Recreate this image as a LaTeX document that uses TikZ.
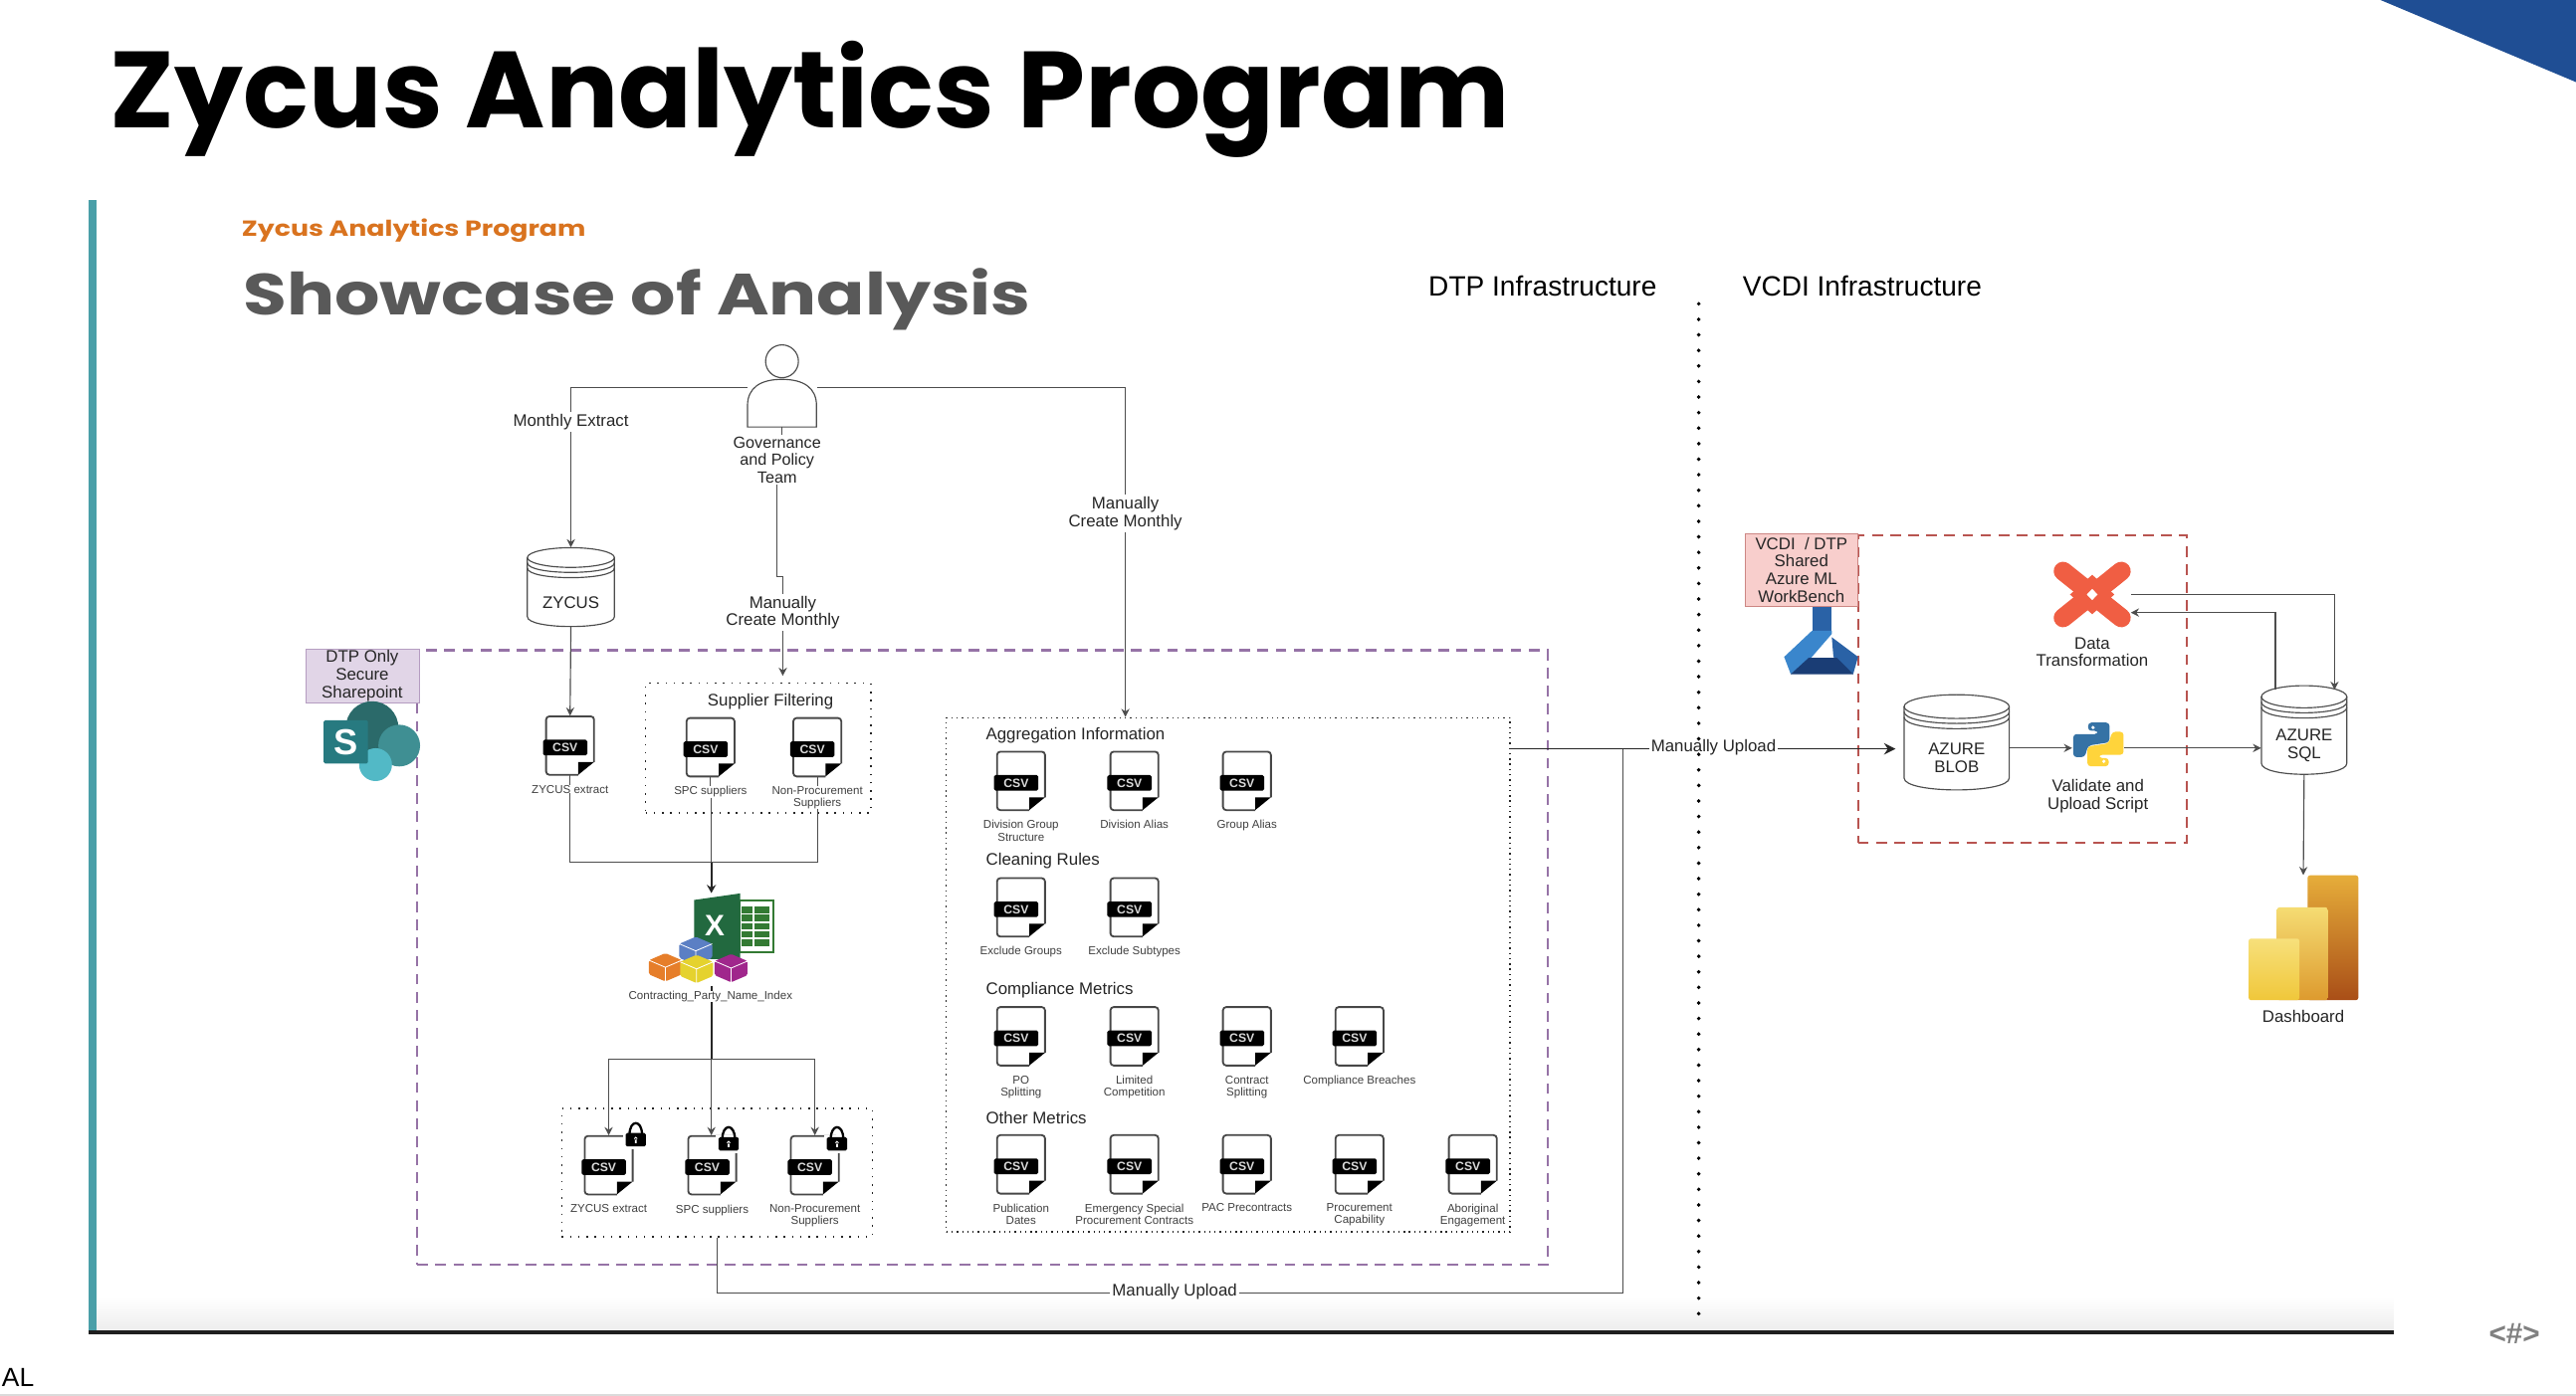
\documentclass[tikz,border=0pt]{standalone}
\usepackage{fontspec}
\setmainfont{Liberation Sans}
\newfontfamily\titlefont{Poppins}
\newfontfamily\widefont[FakeStretch=1.22]{Poppins}
\usetikzlibrary{arrows.meta,calc,positioning}

\definecolor{bannerblue}{HTML}{1F4E94}
\definecolor{barteal}{HTML}{4A9FA8}
\definecolor{headorange}{HTML}{D9731F}
\definecolor{headgrey}{HTML}{595959}
\definecolor{linkgrey}{HTML}{4D4D4D}
\definecolor{zonepurple}{HTML}{9673A6}
\definecolor{zonered}{HTML}{B85450}
\definecolor{tagpurple}{HTML}{E1D5E7}
\definecolor{tagred}{HTML}{F8CECC}
\definecolor{dbtred}{HTML}{F05E43}

\newcommand{\csvfile}[4]{%
    \node [filebody] (#1) at (#2,#3) {};
    \begin{scope}[shift={(#2,#3)}]
        \draw [fileline] (5,17.8) -- (-14.6,17.8) -- (-14.6,-17.8) -- (14.6,-17.8) -- (14.6,10);
        \fill [black] (5,17.8) -- (14.6,10) -- (5,10) -- cycle;
        \node [csvtag] at (-3,1.2) {CSV};
    \end{scope}
    \node [smalltext, anchor=north] (#1lbl) at (#2,#3+22.5) {#4};
}
\newcommand{\datastore}[6]{%
    \pgfmathsetmacro{\halfw}{#4/2}
    \pgfmathsetmacro{\halfh}{#5/2}
    \pgfmathsetmacro{\capy}{#5/8}
    \begin{scope}[shift={(#2,#3)}]
        \draw [storeline, fill=white] (-\halfw,-\halfh+\capy) -- (-\halfw,\halfh-\capy)
            .. controls (-\halfw,\halfh+\capy/3) and (\halfw,\halfh+\capy/3) .. (\halfw,\halfh-\capy)
            -- (\halfw,-\halfh+\capy);
        \draw [storeline] (0,-\halfh+\capy) ellipse [x radius=\halfw, y radius=\capy];
        \foreach \band in {3.2,6.4}
            \draw [storeline] (-\halfw,-\halfh+\capy+\band)
                .. controls (-\halfw,-\halfh+2.3*\capy+\band) and (\halfw,-\halfh+2.3*\capy+\band) .. (\halfw,-\halfh+\capy+\band);
    \end{scope}
    \node [inner sep=0, minimum width=#4, minimum height=#5] (#1) at (#2,#3) {};
    \node [labeltext] (#1txt) at (#2,#3+8.5) {#6};
}
\newcommand{\lockmark}[2]{%
    \fill [white] (#1-8,#2-5) rectangle (#1+8,#2+5.5);
    \draw [line width=1.4] (#1-3.8,#2-3) .. controls (#1-3.8,#2-12.5) and (#1+3.8,#2-12.5) .. (#1+3.8,#2-3);
    \fill [black, rounded corners=1] (#1-6.2,#2-4.1) rectangle (#1+6.2,#2+4.1);
    \fill [white] (#1,#2-0.8) circle (1.1) (#1-0.5,#2-0.8) rectangle (#1+0.5,#2+2);
}
\newcommand{\isobox}[3]{%
    \fill [#3, rounded corners=1] (#1-10,#2-4.3) -- (#1,#2-8.6) -- (#1+10,#2-4.3) -- (#1+10,#2+4.3) -- (#1,#2+8.6) -- (#1-10,#2+4.3) -- cycle;
    \draw [white, line width=0.5] (#1-10,#2-4.3) -- (#1,#2) -- (#1+10,#2-4.3) (#1,#2) -- (#1,#2+8.6);
}

\begin{document}
\begin{tikzpicture}[x=1pt, y=-1pt,
        arrow/.style = {draw=linkgrey, line width=0.7pt, -{Stealth[length=5pt,width=5pt]}},
        link/.style = {draw=linkgrey, line width=0.7pt},
        heavy/.style = {draw=black!85, line width=1pt},
        storeline/.style = {draw=linkgrey, line width=0.7pt},
        fileline/.style = {draw=black!72, line width=1.1pt, rounded corners=2pt},
        filebody/.style = {inner sep=0, minimum width=30, minimum height=36},
        csvtag/.style = {fill=black, text=white!85!black, rounded corners=1pt, inner sep=0, minimum width=27, minimum height=9.5, font=\fontsize{7.4}{8}\selectfont\bfseries},
        labeltext/.style = {align=center, inner sep=1pt, yshift=-1pt, text=black!85, font=\fontsize{10.2}{10.8}\selectfont},
        smalltext/.style = {align=center, inner sep=0, yshift=-1.3pt, text=black!75, font=\fontsize{7}{7.4}\selectfont},
        headtext/.style = {anchor=west, inner sep=0, yshift=-0.8pt, text=black!85, font=\fontsize{10.2}{11}\selectfont},
        dotzone/.style = {draw=black!85, line width=0.9pt, dash pattern=on 0.9pt off 4.1pt, inner sep=0},
        finezone/.style = {draw=black!85, line width=0.8pt, dash pattern=on 0.8pt off 2.4pt, inner sep=0},
        purplezone/.style = {draw=zonepurple, line width=1.4pt, dash pattern=on 6.5pt off 4.5pt, inner sep=0},
        redzone/.style = {draw=zonered, line width=1.4pt, dash pattern=on 6.5pt off 4.5pt, inner sep=0},
        infotag/.style = {labeltext, minimum width=69},
    ]
    \useasboundingbox (0,0) rectangle (1568,850);
    \fill [white] (0,0) rectangle (1568,850);

    \fill [bannerblue] (1449,0) -- (1568,0) -- (1568,50) -- cycle;
    \node [anchor=base west, inner sep=0] (title) at (67,78) {\titlefont\fontsize{66}{66}\selectfont\bfseries Zycus Analytics Program};

    \shade [top color=white, bottom color=black!7] (58,790) rectangle (1457,810);
    \fill [barteal] (54,122) rectangle (58.5,811);
    \fill [black!88] (54,810) rectangle (1457,812.5);
    \node [anchor=west, inner sep=0] (author) at (1,839) {\fontsize{16}{16}\selectfont AL};
    \draw [black!14, line width=0.8pt] (0,849.5) -- (1568,849.5);
    \node [inner sep=0, text=black!50] (pagemark) at (1530.5,812) {\fontsize{18}{18}\selectfont\bfseries <\#>};

    \node [anchor=base west, inner sep=0, text=headorange] (kicker) at (147,144) {\widefont\fontsize{13.3}{15}\selectfont\bfseries Zycus Analytics Program};
    \node [anchor=base west, inner sep=0, text=headgrey] (showcase) at (148,192) {\widefont\fontsize{35.4}{36}\selectfont\bfseries Showcase of Analysis};

    \node [inner sep=0, font=\fontsize{17}{17}\selectfont] (dtphead) at (939,174) {DTP Infrastructure};
    \node [inner sep=0, font=\fontsize{17}{17}\selectfont] (vcdihead) at (1133.5,174) {VCDI Infrastructure};
    \coordinate (dividertop) at (1034,185);
    \coordinate (dividerend) at (1034,804);
    \draw [black, line width=2.4pt, line cap=round, dash pattern=on 0pt off 9.46pt] (dividertop) -- (dividerend);

    \node [purplezone, minimum width=688, minimum height=374] (dtpzone) at (598,583) {};
    \node [redzone, minimum width=200, minimum height=187] (vcdizone) at (1231,419.5) {};
    \node [dotzone, minimum width=137, minimum height=79] (supplierzone) at (461.5,455.5) {};
    \node [dotzone, minimum width=189, minimum height=78] (lockzone) at (436.5,714) {};
    \node [finezone, minimum width=343, minimum height=313] (metriczone) at (747.5,593.5) {};

    \node [infotag, draw=zonepurple!70, fill=tagpurple, minimum height=33, yshift=1pt] (dtptag) at (220.5,411.5) {DTP Only\\Secure\\Sharepoint};
    \node [infotag, draw=zonered!70, fill=tagred, minimum height=44, yshift=1pt] (vcditag) at (1096.5,347) {VCDI~~/ DTP\\Shared\\Azure ML\\WorkBench};

    % person
    \node [inner sep=0, minimum width=42, minimum height=29] (team) at (476,245.5) {};
    \draw [link] (476,220) ellipse [x radius=10, y radius=10];
    \draw [link] (455,260) -- (455,247) .. controls (455,236) and (463,231) .. (476,231) .. controls (489,231) and (497,236) .. (497,247) -- (497,260) -- cycle;
    \node [labeltext, font=\fontsize{9.8}{10.6}\selectfont, yshift=1pt] (teamlbl) at (473,280) {Governance\\and Policy\\Team};
    \node [labeltext] (createlbl) at (476.5,372) {Manually\\Create Monthly};
    \node [labeltext] (extractlbl) at (347.5,256) {Monthly Extract};
    \node [labeltext] (monthlylbl) at (685,311.5) {Manually\\Create Monthly};

    \datastore{zycusstore}{347.5}{357.5}{53}{48}{ZYCUS}
    \datastore{blobstore}{1191}{452}{64}{58}{AZURE\\BLOB}
    \datastore{sqlstore}{1402.5}{444.5}{52}{54}{AZURE\\SQL}

    \csvfile{zycusfile}{347}{454}{ZYCUS extract}
    \csvfile{spcfile}{432.5}{455}{SPC suppliers}
    \csvfile{nonprocfile}{497.5}{455}{Non-Procurement\\Suppliers}
    \node [labeltext] (supplierhead) at (469,426) {Supplier Filtering};

    \coordinate (extractcorner) at (347.5,236);
    \coordinate (monthlycorner) at (685,236);
    \draw [link] (team.west |- extractcorner) -- (extractcorner) -- (extractlbl.north);
    \draw [arrow] (extractlbl.south) -- (zycusstore.north);
    \draw [arrow] (zycusstore.south) -- (zycusfile.north);
    \draw [link] (team.east |- monthlycorner) -- (monthlycorner) -- (monthlylbl.north);
    \draw [arrow] (monthlylbl.south) -- (monthlylbl.south |- metriczone.north);
    \draw [link] (team.south) -- (teamlbl.north -| team.south);
    \draw [link] (teamlbl.south) -- ++(0,56) -| (createlbl.north);
    \draw [arrow, shorten >=4pt] (createlbl.south) -- (createlbl.south |- supplierzone.north);

    % merge into the index workbook
    \node [inner sep=0, minimum width=80, minimum height=56] (excelnode) at (433,572) {};
    \node [smalltext] (excellbl) at (432.5,605.5) {Contracting\_Party\_Name\_Index};
    \fill [white] (422.5,544) rectangle (471,584);
    \draw [draw=green!35!black!80, line width=1.1pt] (450,548.5) rectangle (471,580);
    \foreach \r in {552,557,562,567,572} {
        \fill [green!35!black!80] (451.5,\r) rectangle (458,\r+4);
        \fill [green!35!black!80] (459,\r) rectangle (468.5,\r+4);
    }
    \definecolor{xlgreen}{HTML}{22693F}
    \fill [xlgreen] (422.5,548) -- (450.5,544) -- (450.5,584) -- (422.5,584) -- cycle;
    \node [inner sep=0, text=white, font=\fontsize{18}{18}\selectfont\bfseries] (excelx) at (435,563.5) {X};
    \definecolor{cubeblue}{HTML}{5B7FC4}
    \definecolor{cubeorange}{HTML}{E67E2A}
    \definecolor{cubepurple}{HTML}{A0278C}
    \definecolor{cubeyellow}{HTML}{E5D22E}
    \isobox{423.5}{579}{cubeblue}
    \isobox{405}{589}{cubeorange}
    \isobox{445}{589.5}{cubepurple}
    \isobox{424}{590}{cubeyellow}

    \coordinate (mergebar) at (433,525);
    \coordinate (splitbar) at (433,645);
    \draw [link] (zycusfile.south) -- (zycusfilelbl.north);
    \draw [link] (spcfile.south) -- (spcfilelbl.north);
    \draw [link] (nonprocfile.south) -- (nonprocfilelbl.north);
    \draw [link] (zycusfilelbl.south) |- (mergebar) -| (nonprocfilelbl.south);
    \draw [link] (spcfilelbl.south -| mergebar) -- (mergebar);
    \draw [heavy, -{Stealth[length=5pt,width=5.5pt]}] (mergebar) -- (excelnode.north);
    \draw [heavy] (excelnode.south) -- (excellbl.north -| excelnode.south);
    \draw [heavy] (excellbl.south -| splitbar) -- (splitbar);

    \csvfile{lockzycus}{370.5}{709.5}{ZYCUS extract}
    \csvfile{lockspc}{433.5}{709.5}{SPC suppliers}
    \csvfile{locknonproc}{496}{709.5}{Non-Procurement\\Suppliers}
    \lockmark{387}{694}
    \lockmark{443.5}{696.5}
    \lockmark{509.5}{696.5}
    \draw [arrow] (splitbar) -| (lockzycus.north);
    \draw [arrow] (splitbar) -- (lockspc.north -| splitbar);
    \draw [arrow] (splitbar) -| (locknonproc.north);

    \node [headtext] (agghead) at (600,447) {Aggregation Information};
    \csvfile{divgroup}{621.5}{475.5}{Division Group\\Structure}
    \csvfile{divalias}{690.5}{475.5}{Division Alias}
    \csvfile{groupalias}{759}{475.5}{Group Alias}
    \node [headtext] (cleanhead) at (600,523.5) {Cleaning Rules};
    \csvfile{exgroups}{621.5}{552.5}{Exclude Groups}
    \csvfile{exsubtypes}{690.5}{552.5}{Exclude Subtypes}
    \node [headtext] (comphead) at (600,602) {Compliance Metrics};
    \csvfile{posplit}{621.5}{631}{PO\\Splitting}
    \csvfile{limited}{690.5}{631}{Limited\\Competition}
    \csvfile{contract}{759}{631}{Contract\\Splitting}
    \csvfile{breaches}{827.5}{631}{Compliance Breaches}
    \node [headtext] (otherhead) at (600,680) {Other Metrics};
    \csvfile{pubdates}{621.5}{709}{Publication\\Dates}
    \csvfile{emergency}{690.5}{709}{Emergency Special\\Procurement Contracts}
    \csvfile{precontract}{759}{709}{PAC Precontracts}
    \csvfile{capability}{827.5}{709}{Procurement\\Capability}
    \csvfile{aboriginal}{896.5}{709}{Aboriginal\\Engagement}

    % sharepoint
    \definecolor{spdark}{HTML}{2B6A6A}
    \definecolor{spmid}{HTML}{3F8F93}
    \definecolor{splight}{HTML}{52B9C6}
    \definecolor{spsquare}{HTML}{277A80}
    \node [inner sep=0, minimum width=59, minimum height=49] (sharepoint) at (226,452) {};
    \fill [spdark] (226.5,443) circle (16);
    \fill [spmid] (243,454) circle (12.7);
    \fill [splight] (228.6,465.6) circle (10);
    \fill [spsquare, rounded corners=1] (197,438.5) rectangle (224,465);
    \node [inner sep=0, text=white, font=\fontsize{22}{22}\selectfont\bfseries] (sharepoints) at (210.5,452) {S};

    % azure ml flask
    \definecolor{flaskmid}{HTML}{2A62A6}
    \definecolor{flasklight}{HTML}{3A86CC}
    \definecolor{flaskdark}{HTML}{1A3D75}
    \node [inner sep=0, minimum width=45, minimum height=41] (flask) at (1108.5,390) {};
    \fill [flaskmid] (1103,369.5) rectangle (1115,385);
    \fill [flasklight] (1103,384) -- (1115,384) -- (1115,386) -- (1102,401) -- (1090,410.5) -- (1086,400) -- cycle;
    \fill [flaskmid] (1115,388) -- (1131,400) -- (1128,410.5) -- (1116,400) -- cycle;
    \fill [flaskdark] (1101,400.5) -- (1118,400.5) -- (1128,410.5) -- (1090,410.5) -- cycle;

    % dbt
    \node [inner sep=0, minimum width=47, minimum height=40] (dbtnode) at (1273.5,362) {};
    \draw [dbtred, line width=11.5pt, line cap=round] (1255.8,347.8) -- (1291.2,376.2) (1291.2,347.8) -- (1255.8,376.2);
    \fill [dbtred] (1273.5,350) -- (1287,362) -- (1273.5,374) -- (1260,362) -- cycle;
    \fill [white] (1273.5,358.6) -- (1276.8,362) -- (1273.5,365.4) -- (1270.2,362) -- cycle;
    \node [labeltext] (dbtlbl) at (1273.5,396) {Data\\Transformation};

    % python
    \definecolor{pyblue}{HTML}{3572A5}
    \definecolor{pyyellow}{HTML}{FFD43B}
    \node [inner sep=0, minimum width=31, minimum height=27] (pythonnode) at (1277,455.5) {};
    \fill [pyblue, rounded corners=2] (1271,440) -- (1284,440) -- (1284,452) -- (1271,454) -- (1269,461) -- (1262,461) -- (1262,447) -- (1277,447) -- (1277,445) -- (1271,445) -- cycle;
    \fill [pyyellow, rounded corners=2, rotate around={180:(1277.3,453.3)}] (1271,440) -- (1284,440) -- (1284,452) -- (1271,454) -- (1269,461) -- (1262,461) -- (1262,447) -- (1277,447) -- (1277,445) -- (1271,445) -- cycle;
    \fill [white] (1274,443) circle (1.1) (1280.6,463.6) circle (1.1);
    \node [labeltext] (pythonlbl) at (1277,484) {Validate and\\Upload Script};

    % power bi
    \definecolor{pbione}{HTML}{E6AD3A}
    \definecolor{pbitwo}{HTML}{A94E17}
    \definecolor{pbithree}{HTML}{F5DC73}
    \definecolor{pbifour}{HTML}{DD9A2E}
    \definecolor{pbifive}{HTML}{F7E07B}
    \definecolor{pbisix}{HTML}{F0C73A}
    \node [inner sep=0, minimum width=67, minimum height=76] (pbinode) at (1402,571) {};
    \shade [top color=pbione, bottom color=pbitwo, rounded corners=1.5] (1404.6,533) rectangle (1435.5,609);
    \shade [top color=pbithree, bottom color=pbifour, rounded corners=1.5] (1386,552.5) rectangle (1417,609);
    \shade [top color=pbifive, bottom color=pbisix, rounded corners=1.5] (1368.7,571.5) rectangle (1399.6,609);
    \node [labeltext] (pbilbl) at (1402,618) {Dashboard};

    \coordinate (uploadcorner) at (988,787.5);
    \coordinate (uploadjoin) at (988,456);
    \coordinate (sqlin) at (1421,420);
    \coordinate (sqlout) at (1385,420);
    \coordinate (dbtin) at (1297,373);
    \node [labeltext] (uploadlbl) at (715,785.5) {Manually Upload};
    \node [labeltext] (sharedlbl) at (1043,454) {Manually Upload};
    \draw [link] (lockzone.south) -- (lockzone.south |- uploadcorner) -- (uploadlbl.west |- uploadcorner);
    \draw [link] (uploadlbl.east |- uploadcorner) -- (uploadcorner) -- (uploadjoin);
    \draw [heavy] (metriczone.east |- uploadjoin) -- (sharedlbl.west |- uploadjoin);
    \draw [heavy, shorten >=5pt, -{Stealth[length=7pt,width=7pt]}] (sharedlbl.east |- uploadjoin) -- (blobstore.west |- uploadjoin);
    \draw [arrow] (blobstore.east |- pythonnode) -- (pythonnode.west);
    \draw [arrow] (pythonnode.east) -- (sqlstore.west |- pythonnode);
    \draw [arrow] (dbtnode.east) -| (sqlin);
    \draw [arrow] (sqlout) |- (dbtin);
    \draw [arrow] (sqlstore.south) -- (pbinode.north);
\end{tikzpicture}
\end{document}
